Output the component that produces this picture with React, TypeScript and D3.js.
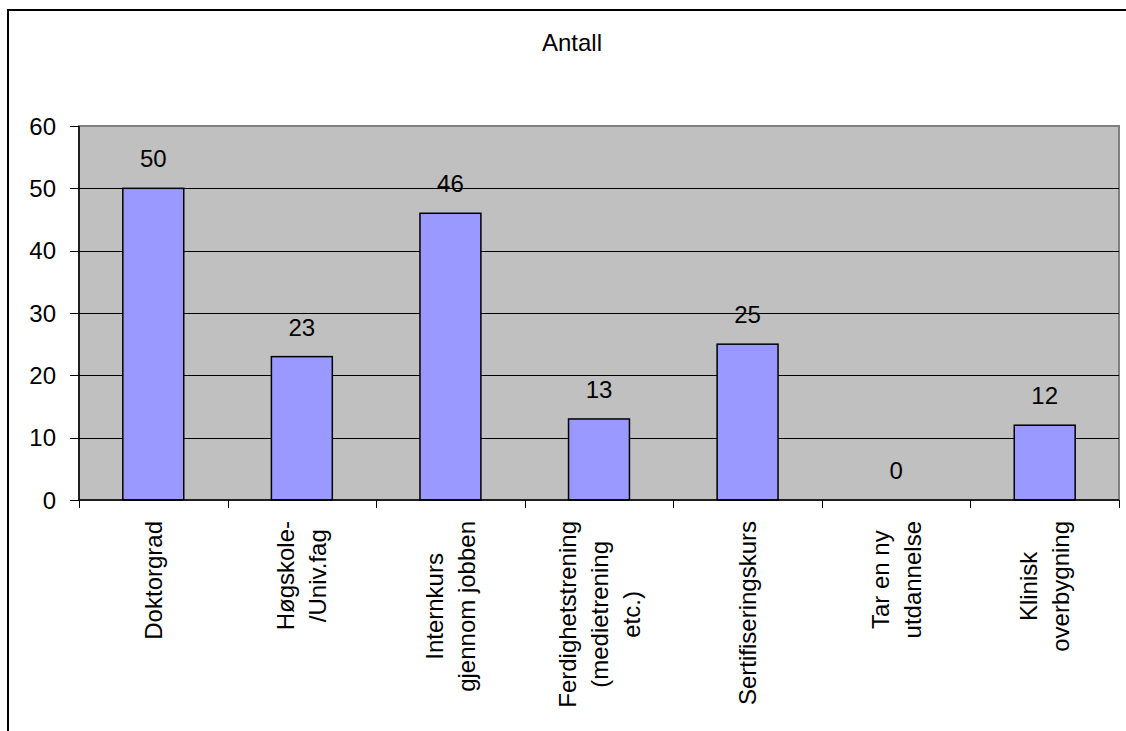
import React from "react";
import * as d3 from "d3";

const categories: string[][] = [
  ["Doktorgrad"],
  ["Høgskole-", "/Univ.fag"],
  ["Internkurs", "gjennom jobben"],
  ["Ferdighetstrening", "(medietrening", "etc.)"],
  ["Sertifiseringskurs"],
  ["Tar en ny", "utdannelse"],
  ["Klinisk", "overbygning"],
];
const values: number[] = [50, 23, 46, 13, 25, 0, 12];
const yTicks: number[] = [0, 10, 20, 30, 40, 50, 60];
const title = "Antall";

const FONT = "Liberation Sans, Arial, sans-serif";
const FS = 24;

function measure(text: string): number {
  const c = document.createElement("canvas");
  const ctx = c.getContext("2d");
  if (!ctx) return text.length * FS * 0.5;
  ctx.font = `${FS}px "Liberation Sans", Arial, sans-serif`;
  return ctx.measureText(text).width;
}

export default function App() {
  const left = 79, right = 1119, top = 126, bottom = 500;
  const x = d3
    .scaleBand<number>()
    .domain(d3.range(categories.length))
    .range([left, right])
    .paddingInner(0)
    .paddingOuter(0);
  const y = d3.scaleLinear().domain([0, 60]).range([bottom, top]);
  const bw = x.bandwidth() * 0.41;
  const lineGap = 32;
  const labelTop = 521;

  return (
    <svg
      width={1126}
      height={731}
      style={{ position: "absolute", left: 0, top: 0, background: "#fff" }}
      fontFamily={FONT}
    >
      <rect x={8} y={10} width={1400} height={1000} fill="#fff" stroke="#000" strokeWidth={2} />
      <text x={572} y={51} textAnchor="middle" fontSize={FS} fill="#000">
        {title}
      </text>
      <rect x={left} y={top} width={right - left} height={bottom - top} fill="#C0C0C0" stroke="#808080" strokeWidth={2} />
      {yTicks.map((t) => (
        <g key={t}>
          {t > 0 && t < 60 && (
            <line x1={left} x2={right} y1={Math.round(y(t)) + 0.5} y2={Math.round(y(t)) + 0.5} stroke="#000" strokeWidth={1} />
          )}
          <line x1={70} x2={left} y1={Math.round(y(t)) + 0.5} y2={Math.round(y(t)) + 0.5} stroke="#000" strokeWidth={1} />
          <text x={56} y={y(t)} textAnchor="end" dominantBaseline="central" fontSize={FS} fill="#000">
            {t}
          </text>
        </g>
      ))}
      {values.map((v, i) => {
        const cx = (x(i) as number) + x.bandwidth() / 2;
        return (
          <g key={i}>
            {v > 0 && (
              <rect x={cx - bw / 2} y={y(v)} width={bw} height={bottom - y(v)} fill="#9999FF" stroke="#000" strokeWidth={1.5} />
            )}
            <text x={cx} y={y(v) - 21} textAnchor="middle" fontSize={FS} fill="#000">
              {v}
            </text>
          </g>
        );
      })}
      <line x1={left} x2={left} y1={top} y2={bottom} stroke="#000" strokeWidth={1.5} />
      <line x1={left} x2={right} y1={bottom} y2={bottom} stroke="#000" strokeWidth={1.5} />
      {d3.range(categories.length + 1).map((i) => {
        const px = Math.round(left + i * x.bandwidth()) + 0.5;
        return <line key={i} x1={px} x2={px} y1={bottom} y2={bottom + 8} stroke="#000" strokeWidth={1} />;
      })}
      {categories.map((lines, i) => {
        const cx = (x(i) as number) + x.bandwidth() / 2;
        const maxLen = Math.max(...lines.map(measure));
        const cy = labelTop + maxLen / 2;
        const n = lines.length;
        return (
          <g key={i}>
            {lines.map((ln, j) => {
              const lx = cx + (j - (n - 1) / 2) * lineGap;
              return (
                <text
                  key={j}
                  transform={`translate(${lx},${cy}) rotate(-90)`}
                  textAnchor="middle"
                  dominantBaseline="central"
                  fontSize={FS}
                  fill="#000"
                >
                  {ln}
                </text>
              );
            })}
          </g>
        );
      })}
    </svg>
  );
}
